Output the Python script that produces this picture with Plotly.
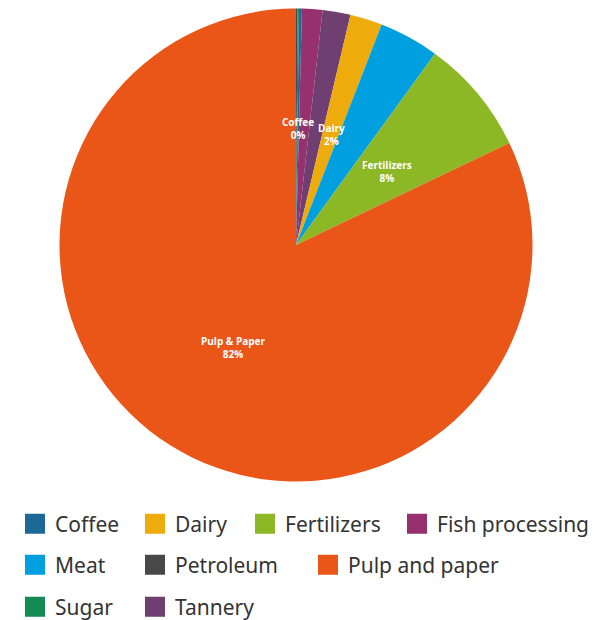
import math
import plotly.graph_objects as go

# Share of wastewater load by industry (%), listed clockwise from 12 o'clock
industries = ["Petroleum", "Sugar", "Coffee", "Fish processing", "Tannery",
              "Dairy", "Meat", "Fertilizers", "Pulp and paper"]
shares = [0.1, 0.1, 0.2, 1.4, 1.9, 2.2, 4.1, 7.9, 82.1]
slice_labels = ["", "", "Coffee", "", "", "Dairy", "", "Fertilizers", "Pulp & Paper"]
colors = {
    "Coffee": "#1d6996", "Dairy": "#edab0c", "Fertilizers": "#8db826",
    "Fish processing": "#96306e", "Meat": "#009fdf", "Petroleum": "#484848",
    "Pulp and paper": "#e95618", "Sugar": "#148a55", "Tannery": "#6e3f70",
}
# legend entries in reading order
legend_order = ["Coffee", "Dairy", "Fertilizers", "Fish processing",
                "Meat", "Petroleum", "Pulp and paper", "Sugar", "Tannery"]

W, H = 599, 620
cx, cy, R = 296, 245, 236.5
dom_x = [(cx - R) / W, (cx + R) / W]
dom_y = [1 - (cy + R) / H, 1 - (cy - R) / H]

fig = go.Figure()
fig.add_trace(go.Pie(
    labels=industries, values=shares, sort=False, direction="clockwise",
    rotation=0, marker=dict(colors=[colors[n] for n in industries], line=dict(width=0)),
    textinfo="none", hoverinfo="label+percent", showlegend=False,
    domain=dict(x=dom_x, y=dom_y),
))

# slice labels at each slice's mid-angle, half way out from the centre
total = sum(shares)
annotations, cum = [], 0.0
for name, v, lab in zip(industries, shares, slice_labels):
    mid = math.radians((cum + v / 2) / total * 360)
    cum += v
    if lab:
        px = cx + 0.5 * R * math.sin(mid)
        py = cy - 0.5 * R * math.cos(mid)
        annotations.append(dict(
            x=px / W, y=1 - py / H, xref="paper", yref="paper", yshift=-2,
            text=f"{lab}<br>{round(v / total * 100):d}%", showarrow=False,
            font=dict(family="Open Sans", size=10, color="white", weight="bold"),
            align="center", xanchor="center", yanchor="middle",
        ))

# one legend box per entry so each swatch sits in its own column slot
slot_x = [26, 146, 256, 408, 26, 146, 319, 26, 146]
slot_y = [524, 524, 524, 524, 565, 565, 565, 607, 607]
legend_layout = {}
for i, (name, sx, sy) in enumerate(zip(legend_order, slot_x, slot_y)):
    lid = "legend" if i == 0 else f"legend{i + 1}"
    fig.add_trace(go.Scatter(
        x=[None], y=[None], mode="markers", name=name, legend=lid,
        marker=dict(symbol="square", size=16, color=colors[name],
                    line=dict(width=4, color=colors[name])),
    ))
    legend_layout[lid] = dict(
        orientation="h", xanchor="left", yanchor="middle",
        x=(sx - 11) / W, y=1 - sy / H,
        font=dict(family="Noto Sans", size=21, color="#333333"),
        itemsizing="trace", bgcolor="rgba(0,0,0,0)",
    )

fig.update_layout(
    width=W, height=H, margin=dict(l=0, r=0, t=0, b=0, autoexpand=False),
    paper_bgcolor="white", plot_bgcolor="white",
    xaxis=dict(visible=False), yaxis=dict(visible=False),
    annotations=annotations,
    **legend_layout,
)
fig.write_html("out.html")
